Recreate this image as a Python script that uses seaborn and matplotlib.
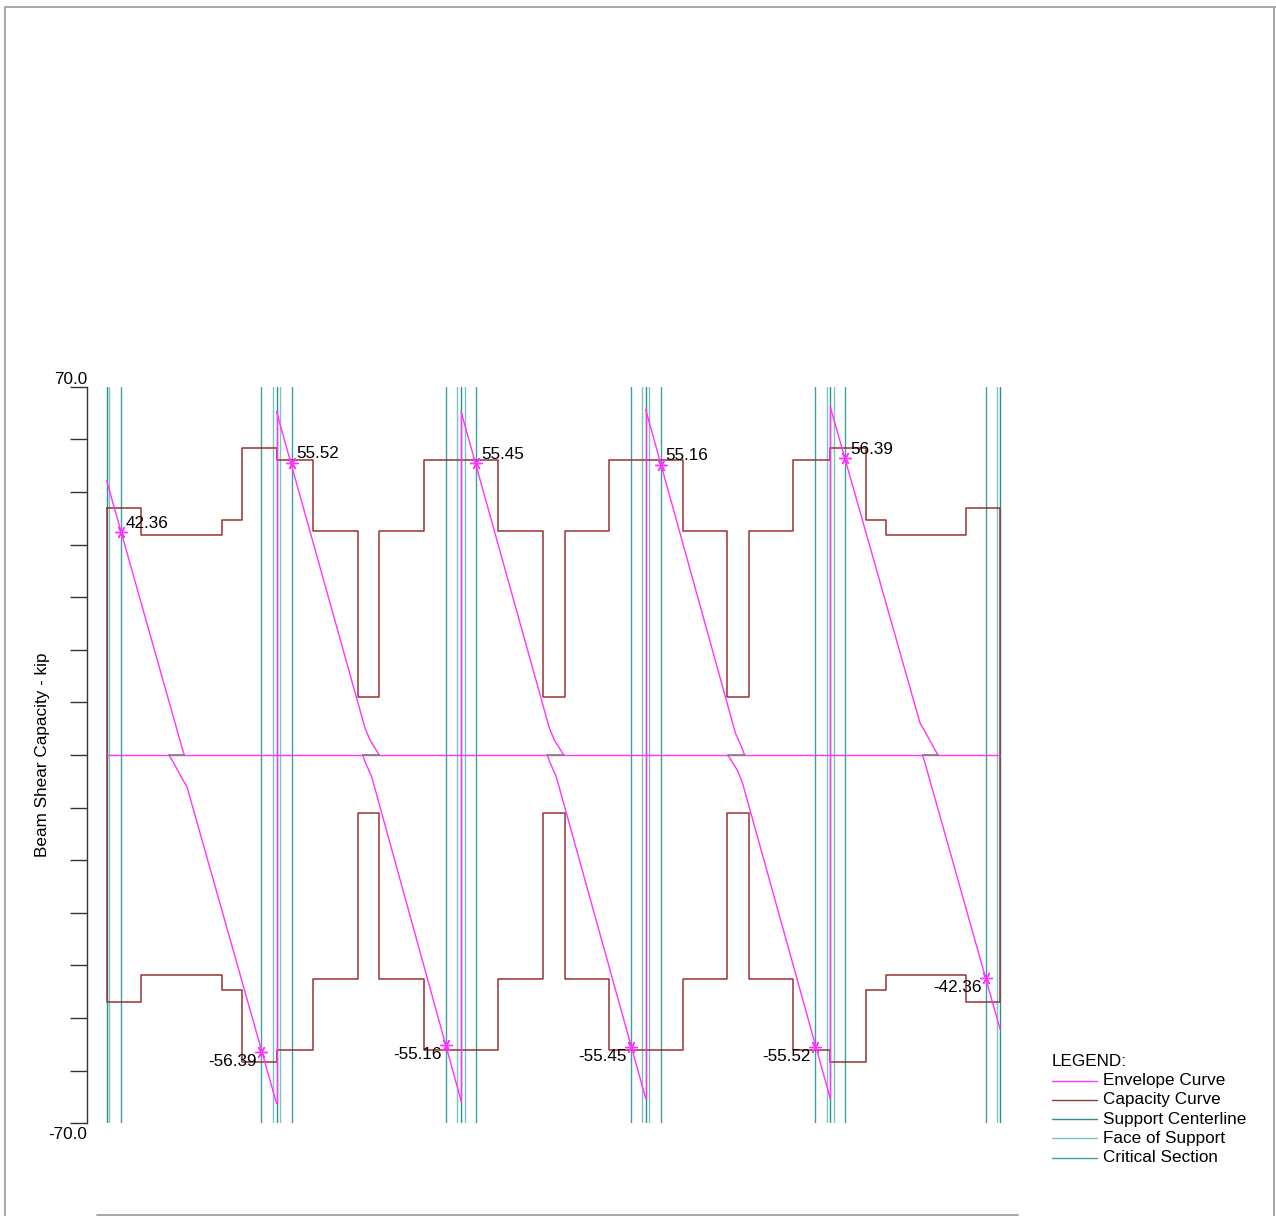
import numpy as np
import pandas as pd
import matplotlib.pyplot as plt
import seaborn as sns

sns.set_style("white")
plt.rcParams['font.family'] = ['Liberation Sans', 'DejaVu Sans']
plt.rcParams['text.color'] = 'black'

# ---- data (ft, kip) ----
supports = [0.0, 23.0, 48.0, 73.0, 98.0, 121.0]
faces = [0.35, 22.5, 23.5, 47.5, 48.5, 72.5, 73.5, 97.5, 98.5, 120.65]
critical = [1.9, 20.95, 25.05, 45.95, 50.05, 70.95, 75.05, 95.95, 100.05, 119.1]

# capacity curve: step edges and values (top / bottom)
cap_edges = [0.0, 4.69, 15.58, 18.29, 23.03, 27.9, 34.0, 36.88, 42.98, 53.0, 59.1,
             62.07, 68.03, 78.0, 84.0, 87.0, 93.0, 98.0, 102.85, 105.56, 116.4, 121.0]
cap_top = [46.9, 41.9, 44.6, 58.3, 56.1, 42.5, 11.1, 42.5, 56.1, 42.5, 11.1,
           42.5, 56.1, 42.5, 11.1, 42.5, 56.1, 58.3, 44.6, 41.9, 46.9]
cap_bot = [-46.9, -41.9, -44.7, -58.4, -56.1, -42.5, -11.1, -42.5, -56.1, -42.5, -11.1,
           -42.5, -56.1, -42.5, -11.1, -42.5, -56.1, -58.4, -44.7, -41.9, -46.9]

# envelope curve, one positive and one negative branch per span
env_pos_x = [[0.0, 10.16, 10.51],
             [23.0, 34.99, 35.66, 36.92],
             [48.0, 59.96, 60.63, 61.9],
             [73.0, 85.17, 86.07, 86.39],
             [98.0, 110.16, 110.71, 112.2, 112.6]]
env_pos_v = [[52.1, 1.6, 0.0],
             [65.25, 5.1, 2.85, 0.0],
             [65.25, 5.1, 2.85, 0.0],
             [65.7, 4.12, 1.27, 0.0],
             [66.2, 6.08, 4.75, 0.95, 0.0]]
env_neg_x = [[8.44, 8.84, 10.33, 10.88, 23.0],
             [34.67, 34.99, 35.89, 48.0],
             [59.67, 59.99, 60.89, 73.0],
             [84.14, 85.4, 86.07, 98.0],
             [110.5, 110.85, 121.0]]
env_neg_v = [[0.0, -0.95, -4.75, -6.08, -66.2],
             [0.0, -1.27, -4.12, -65.7],
             [0.0, -1.27, -4.12, -65.25],
             [0.0, -2.85, -5.1, -65.25],
             [0.0, -1.6, -52.1]]

lab_pos_x = [1.9, 25.05, 50.05, 75.05, 100.05]
lab_pos_v = [42.36, 55.52, 55.45, 55.16, 56.39]
lab_neg_x = [20.95, 45.95, 70.95, 95.95, 119.1]
lab_neg_v = [-56.39, -55.16, -55.45, -55.52, -42.36]

legend_items = ['Envelope Curve', 'Capacity Curve', 'Support Centerline',
                'Face of Support', 'Critical Section']

ENV = '#ff33ff'
CAP = '#993333'
CL = '#2f8f8f'
FACE = '#7cc4c4'
CRIT = '#3f9f9f'

W, H = 1276, 1216
fig = plt.figure(figsize=(W / 100, H / 100), dpi=100)

# axes placed so that the left spine sits at px 87 and y runs 70..-70 over px 387..1123
ax_l, ax_r, ax_t, ax_b = 87, 1020, 386.7, 1123.3
ax = fig.add_axes([ax_l / W, 1 - ax_b / H, (ax_r - ax_l) / W, (ax_b - ax_t) / H])
ax.set_facecolor('none')
px_per_ft = 7.383
ax.set_xlim((ax_l - 106.7) / px_per_ft, (ax_r - 106.7) / px_per_ft)
ax.set_ylim(-70, 70)

# support lines
for x in critical:
    ax.axvline(x, color=CRIT, lw=1, zorder=1)
for x in faces:
    ax.axvline(x, color=FACE, lw=1, zorder=1)
for x in supports:
    ax.axvline(x, color=CL, lw=1, zorder=1)

# capacity curve as a closed step outline
top_x = np.repeat(cap_edges, 2)[1:-1]
top_y = np.repeat(cap_top, 2)
bot_y = np.repeat(cap_bot, 2)
cap_x = np.concatenate([top_x, top_x[::-1], top_x[:1]])
cap_y = np.concatenate([top_y, bot_y[::-1], top_y[:1]])
ax.plot(cap_x, cap_y, color=CAP, lw=1.1, zorder=2)

# envelope: build one long table and let seaborn draw each piece
rows = []
piece = 0
for i in range(5):
    for x, v in zip(env_pos_x[i], env_pos_v[i]):
        rows.append((piece, x, v))
    piece += 1
    for x, v in zip(env_neg_x[i], env_neg_v[i]):
        rows.append((piece, x, v))
    piece += 1
# jumps at the interior supports
for i in range(4):
    rows.append((piece, env_neg_x[i][-1], env_neg_v[i][-1]))
    rows.append((piece, env_pos_x[i + 1][0], env_pos_v[i + 1][0]))
    piece += 1
env = pd.DataFrame(rows, columns=['piece', 'x', 'v'])

ax.plot([supports[0], supports[-1]], [0, 0], color=ENV, lw=1, zorder=3)
sns.lineplot(data=env, x='x', y='v', units='piece', estimator=None, sort=False,
             color=ENV, lw=1, ax=ax, zorder=4)
for i in range(5):
    ax.plot([env_neg_x[i][0], env_pos_x[i][-1]], [0, 0], color='#808080', lw=1.2, zorder=5)

# labelled points
ax.plot(lab_pos_x + lab_neg_x, lab_pos_v + lab_neg_v, ls='none', marker=(6, 2, 90),
        ms=9, mec=ENV, mew=1, zorder=6)
for x, v in zip(lab_pos_x, lab_pos_v):
    ax.annotate(f'{v:.2f}', (x, v), xytext=(3.5, 1), textcoords='offset points',
                ha='left', va='bottom', fontsize=12.3, color='black')
for x, v in zip(lab_neg_x, lab_neg_v):
    ax.annotate(f'{v:.2f}', (x, v), xytext=(-3, -1.5), textcoords='offset points',
                ha='right', va='top', fontsize=12.3, color='black')

# axis styling
for s in ['top', 'right', 'bottom']:
    ax.spines[s].set_visible(False)
ax.spines['left'].set_color('#333333')
ax.spines['left'].set_linewidth(1)
ax.set_xticks([])
ax.set_yticks(np.arange(-70, 71, 10))
ax.set_yticklabels([])
ax.tick_params(axis='y', direction='out', length=12.2, width=1, color='#333333', left=True)
ax.text(0, 1, '70.0', transform=ax.transAxes, ha='right', va='bottom', fontsize=12.3,
        color='black')
ax.annotate('-70.0', (0, 0), xycoords='axes fraction', xytext=(0, -2.5),
            textcoords='offset points', ha='right', va='top', fontsize=12.3, color='black')
ax.set_xlabel('')
ax.set_ylabel('Beam Shear Capacity - kip', fontsize=12.3, va='center', color='black')
ax.yaxis.set_label_coords((43 - ax_l) / (ax_r - ax_l), 0.5)

# overlay in pixel coordinates for legend and frame
ov = fig.add_axes([0, 0, 1, 1])
ov.set_xlim(0, W)
ov.set_ylim(H, 0)
ov.axis('off')
frame = '#a0a0a0'
ov.plot([5, 1276], [6.5, 6.5], color=frame, lw=1.3)
ov.plot([5, 5], [6.5, 1216], color=frame, lw=1.3)
ov.plot([1274, 1274], [6.5, 1216], color=frame, lw=1.3)
ov.plot([97, 1018], [1215, 1215], color=frame, lw=1.3)

ov.text(1052, 1062, 'LEGEND:', ha='left', va='center', fontsize=12.3, color='black')
leg_colors = [ENV, CAP, CL, FACE, CRIT]
for k, (lab, c) in enumerate(zip(legend_items, leg_colors)):
    y = 1080.7 + k * 19.2
    ov.plot([1052, 1097], [y, y], color=c, lw=1)
    ov.text(1103, y, lab, ha='left', va='center', fontsize=12.3, color='black')

fig.savefig('out.png', dpi=100)
